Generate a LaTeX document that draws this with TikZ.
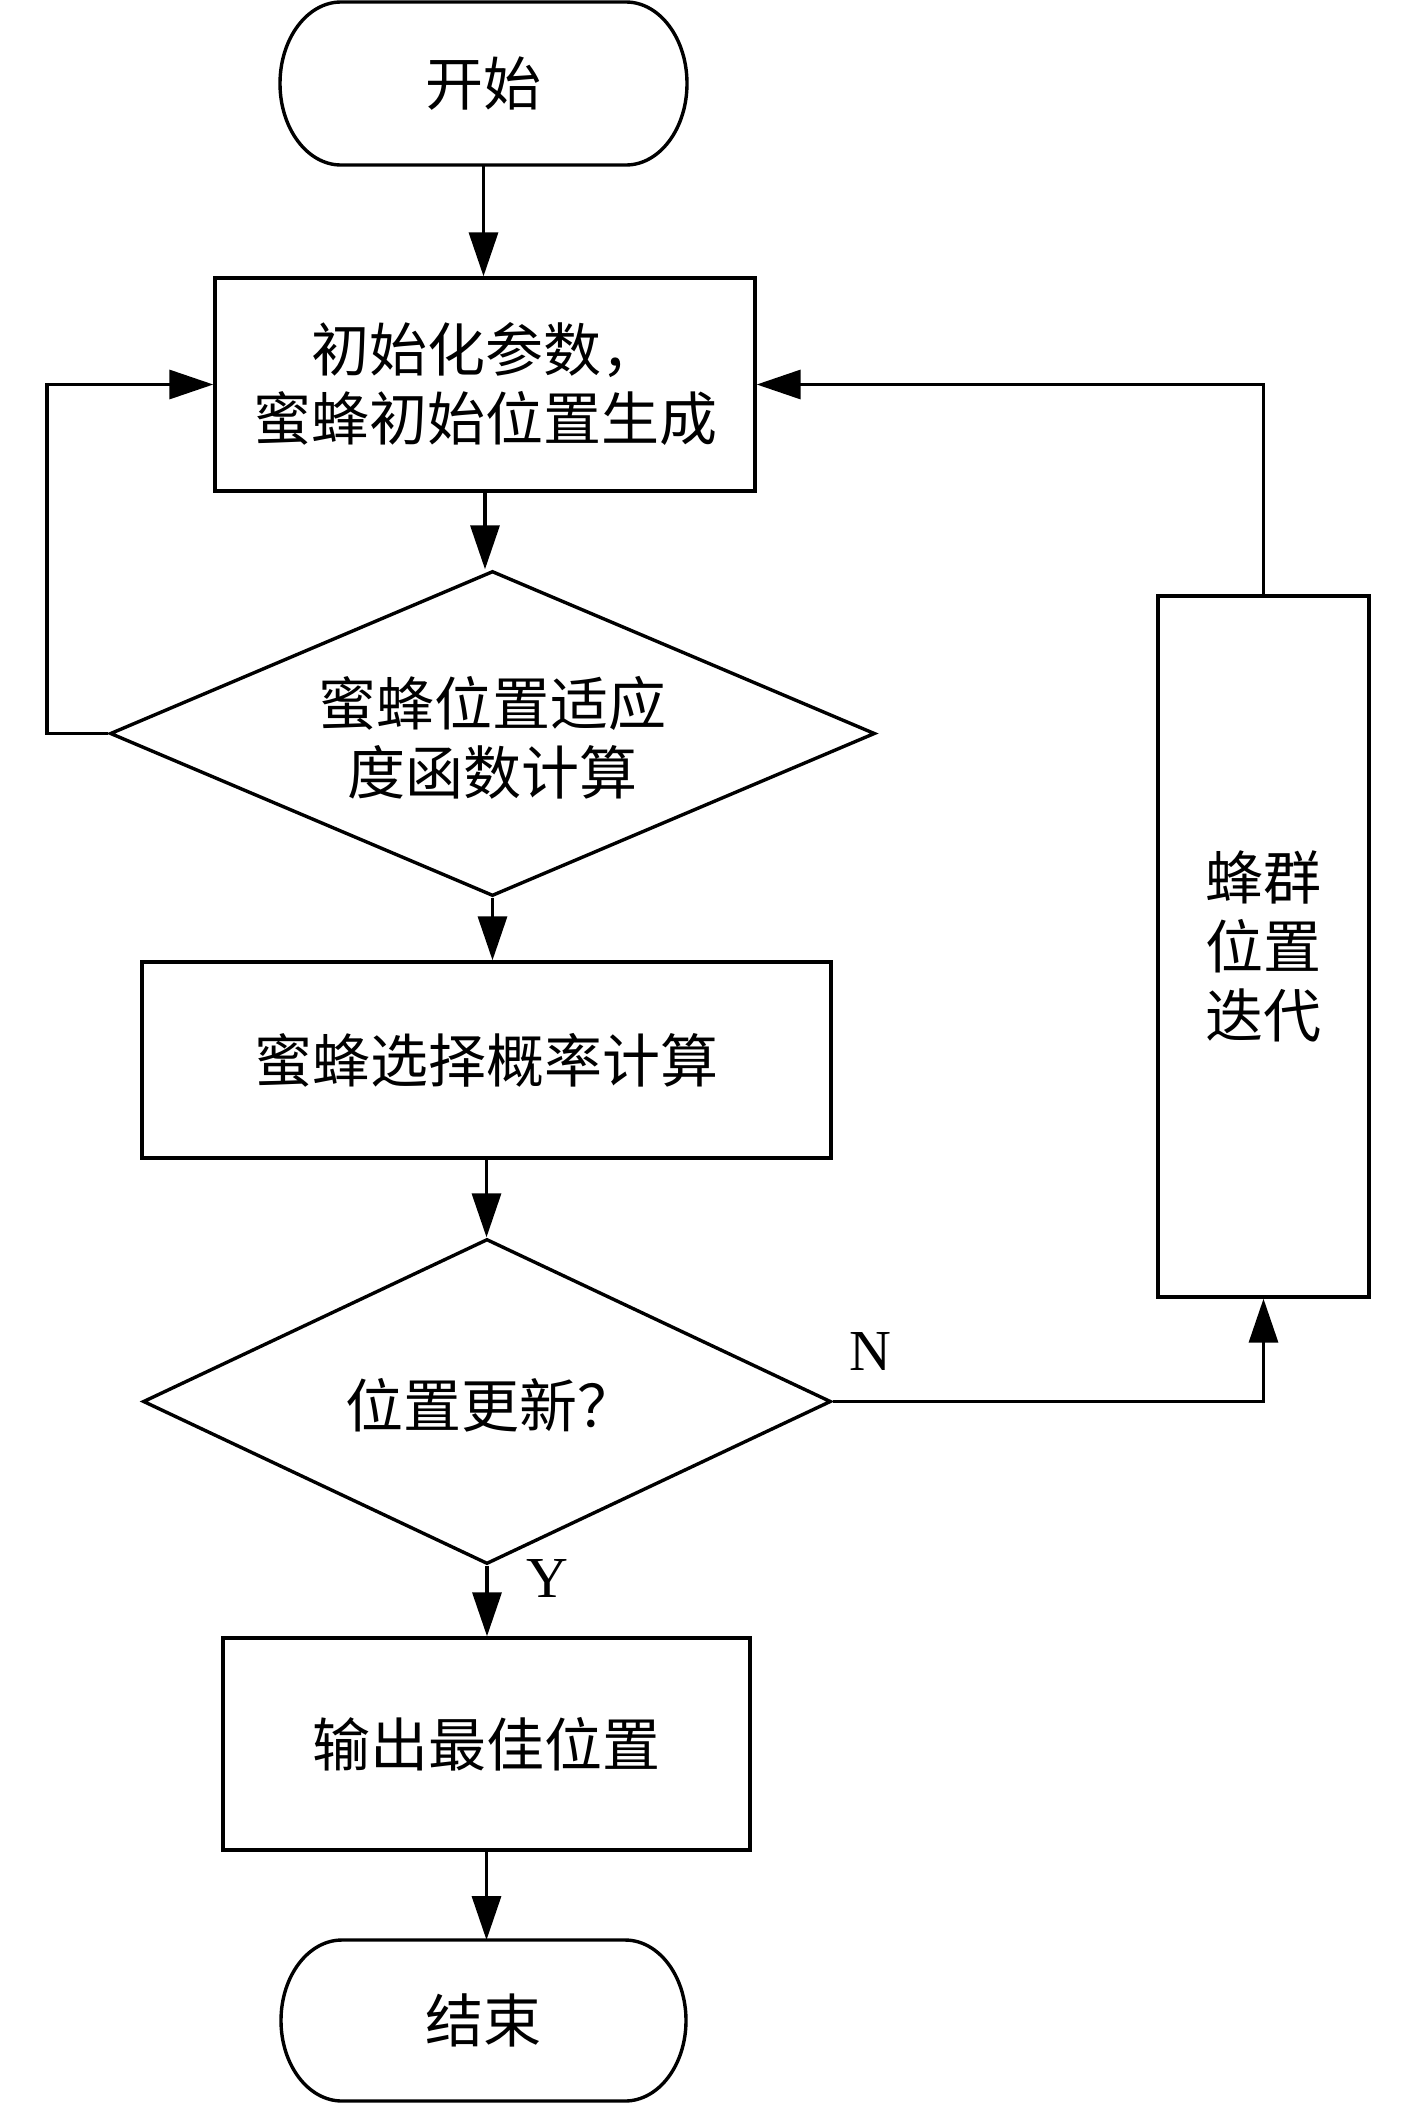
\documentclass[tikz,border=0pt]{standalone}
\usepackage{fontspec}
\setmainfont{Liberation Serif}
\newfontfamily\cjk{Noto Sans CJK SC}
\usetikzlibrary{shapes.geometric,arrows.meta}
\begin{document}
\begin{tikzpicture}[x=0.5pt,y=-0.5pt,
  line width=1.7pt,
  cjkfont/.style={font=\cjk\fontsize{29}{34.5}\selectfont},
  box/.style={draw, rectangle, inner sep=0pt, align=center, cjkfont},
  dia/.style={draw, diamond, inner sep=0pt},
  txt/.style={align=center, inner sep=0pt, cjkfont},
  term/.style={txt, outer sep=0pt},
  lab/.style={inner sep=0pt, font=\fontsize{29}{34}\selectfont},
  arr/.style={-{Triangle[length=22pt,width=14.5pt]}},
]
\useasboundingbox (0,0) rectangle (1417,2105);

% start terminal
\node[term, minimum width=203.5pt, minimum height=81.5pt] (start) at (483.5,83.5) {开始};
\draw[line join=round] ([xshift=30.5pt]start.south west)
  arc[start angle=270,end angle=90,x radius=30.5pt,y radius=40.75pt]
  -- ([xshift=-30.5pt]start.north east)
  arc[start angle=90,end angle=-90,x radius=30.5pt,y radius=40.75pt]
  -- cycle;

\node[box, minimum width=270pt, minimum height=106.5pt] (box1) at (485,384.5) {初始化参数，\\蜜蜂初始位置生成};

\node[dia, minimum width=382.5pt, minimum height=162.5pt] (d1) at (492.5,733.5) {};
\node[txt] (d1txt) at (492.5,738) {蜜蜂位置适应\\度函数计算};

\node[box, minimum width=344.5pt, minimum height=98pt] (box2) at (486.5,1060) {蜜蜂选择概率计算};

\node[dia, minimum width=344pt, minimum height=162.5pt] (d2) at (487,1401.5) {};
\node[txt] (d2txt) at (490,1405) {位置更新？};

\node[box, minimum width=105.5pt, minimum height=350.5pt] (box3) at (1263.5,946.5) {蜂群\\位置\\迭代};

\node[box, minimum width=263.5pt, minimum height=106pt] (box4) at (486.5,1744) {输出最佳位置};

% end terminal
\node[term, minimum width=202.5pt, minimum height=80.5pt] (end) at (483.5,2020.5) {结束};
\draw[line join=round] ([xshift=30.5pt]end.south west)
  arc[start angle=270,end angle=90,x radius=30.5pt,y radius=40.25pt]
  -- ([xshift=-30.5pt]end.north east)
  arc[start angle=90,end angle=-90,x radius=30.5pt,y radius=40.25pt]
  -- cycle;

\coordinate (L) at (47,0);

% connectors
\draw[arr] (start.south) -- (start.south |- box1.north);
\draw[arr] (box1.south) -- (box1.south |- d1.north);
\draw[arr] (d1.west) -- (d1.west -| L) |- (box1.west);
\draw[arr] (d1.south) -- (d1.south |- box2.north);
\draw[arr] (box2.south) -- (box2.south |- d2.north);
\draw[arr] (d2.east) -| (box3.south);
\draw[arr] (box3.north) |- (box1.east);
\draw[arr] (d2.south) -- (d2.south |- box4.north);
\draw[arr] (box4.south) -- (box4.south |- end.north);

% labels
\node[lab] (nlab) at (870,1351) {N};
\node[lab] (ylab) at (547,1578) {Y};
\end{tikzpicture}
\end{document}
